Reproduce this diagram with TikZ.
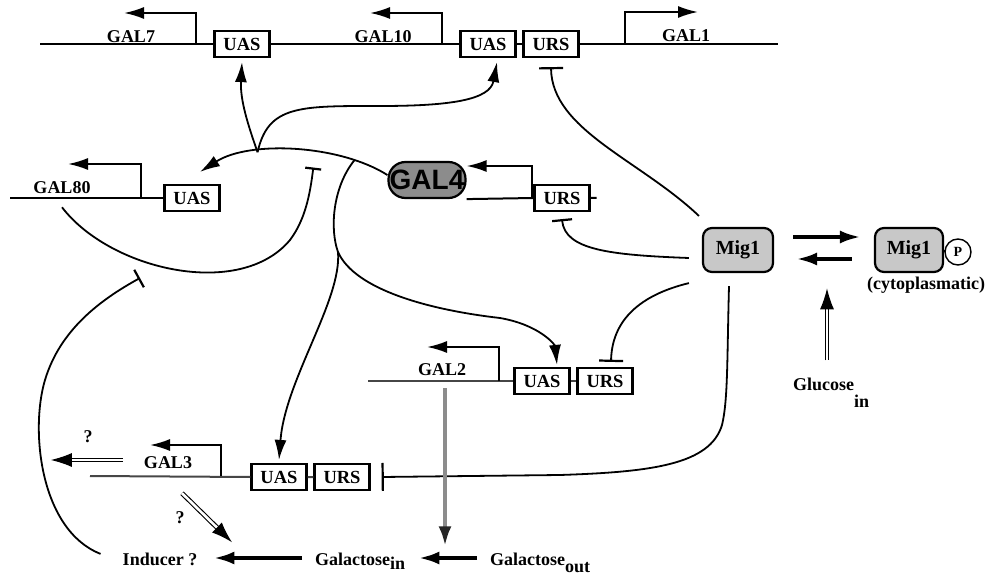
\documentclass[tikz,border=0pt]{standalone}
\usepackage{fontspec}
\setmainfont{Liberation Serif}
\newfontfamily\galsans{Liberation Sans}
\usetikzlibrary{arrows.meta,positioning}
\definecolor{galgray}{RGB}{140,140,140}
\definecolor{miggray}{RGB}{200,200,200}
\definecolor{dnagray}{RGB}{70,70,70}
\tikzset
{
    site/.style = {draw=black, line width=2.2pt, fill=white, minimum width=55pt, minimum height=26pt, inner sep=0pt, font=\fontsize{18.5}{20}\selectfont\bfseries},
    gname/.style = {inner sep=0pt, font=\fontsize{18}{20}\selectfont\bfseries},
    protein/.style = {draw=black, line width=2.2pt, rounded corners=9pt, inner sep=0pt},
    dna/.style = {line width=2pt},
    prom/.style = {line width=2pt, -{Latex[length=20pt,width=12pt]}},
    act/.style = {line width=1.8pt, -{Latex[length=20pt,width=12pt]}},
    inh/.style = {line width=1.8pt, -{Bar[width=24pt,line width=2.2pt]}},
    fat/.style = {line width=4pt, -{Latex[length=21pt,width=13pt]}},
    hollow/.style = {double, double distance=2.6pt, line width=1.1pt, -{Latex[length=21pt,width=14pt]}}
}
\begin{document}
\begin{tikzpicture}[x=1pt, y=-1pt]
\useasboundingbox (0,0) rectangle (990,577);
% GAL7 - GAL10 - GAL1
\node [site] (uas7) at (242,44) {UAS};
\node [site] (uas10) at (488,44) {UAS};
\node [site] (urs1) at (551,44) {URS};
\draw [dna] (40,44) -- (uas7.west) (uas7.east) -- (uas10.west) (uas10.east) -- (urs1.west) (urs1.east) -- (778,44);
\draw [prom] (196,44) -- (196,13) -- (124,13);
\draw [prom] (442,44) -- (442,13) -- (370,13);
\draw [prom] (625,44) -- (625,12) -- (698,12);
\node [gname] (gal7) at (131,37) {GAL7};
\node [gname] (gal10) at (383,37) {GAL10};
\node [gname] (gal1) at (686,36) {GAL1};
% GAL80
\node [site] (uas80) at (192,198) {UAS};
\draw [dna] (10,198) -- (uas80.west);
\draw [prom] (141,198) -- (141,164) -- (68,164);
\node [gname] (gal80) at (62,188) {GAL80};
% GAL4
\node [protein, fill=galgray, rounded corners=17pt, minimum width=77pt, minimum height=36pt, font=\galsans\fontsize{28}{30}\selectfont\bfseries] (gal4) at (427,180) {GAL4};
\node [site] (urs4) at (562,198) {URS};
\draw [dna] (gal4.south east) -- (urs4.west) (urs4.east) -- ++(6,0);
\draw [prom] (532,198) -- (532,166) -- ([yshift=14pt]gal4.east);
% GAL2
\node [site] (uas2) at (542,381) {UAS};
\node [site] (urs2) at (605,381) {URS};
\draw [dna, dnagray] (368,381) -- (uas2.west) (uas2.east) -- (urs2.west);
\draw [prom] (499,381) -- (499,347) -- (427,347);
\node [gname] (gal2) at (442,370) {GAL2};
% GAL3
\node [site] (uas3) at (279,477) {UAS};
\node [site] (urs3) at (342,477) {URS};
\draw [dna, dnagray] (90,476) -- (uas3.west) (uas3.east) -- (urs3.west);
\draw [prom] (221,476) -- (221,445) -- (150,445);
\node [gname] (gal3) at (168,463) {GAL3};
\draw [hollow] ([xshift=-21pt,yshift=3pt]gal3.west) -- ++(-72,0);
\node [gname] (q1) at (88,437) {?};
\draw [hollow] ([xshift=14pt,yshift=-24pt]gal3.south) -- ++(50,49);
\node [gname] (q2) at (180,518) {?};
% Mig1
\node [protein, fill=miggray, minimum width=70pt, minimum height=44pt, font=\fontsize{20}{22}\selectfont\bfseries] (mig) at (738,250) {Mig1};
\node [protein, fill=miggray, minimum width=68pt, minimum height=44pt, font=\fontsize{20}{22}\selectfont\bfseries] (migp) at (909,250) {Mig1};
\node [circle, draw, line width=1.4pt, minimum size=26pt, inner sep=0pt, font=\fontsize{14}{16}\selectfont\bfseries] (phos) at (958,252) {P};
\draw [line width=1.4pt] (migp.east) -- (phos.west);
\node [gname] (cyto) at (926,285) {(cytoplasmatic)};
\draw [fat] ([xshift=19pt,yshift=13pt]mig.east) -- ([xshift=-13pt,yshift=13pt]migp.west);
\draw [fat] ([xshift=-22pt,yshift=-9pt]migp.west) -- ([xshift=22pt,yshift=-9pt]mig.east);
\node [gname, anchor=base west] (gluc) at (793,390) {Glucose\raisebox{-17pt}{in}};
\draw [hollow] ([xshift=34pt,yshift=17pt]gluc.north west) -- ++(0,-72);
% galactose
\node [gname, anchor=base] (ind) at (160,565) {Inducer ?};
\node [gname, anchor=base west] (galin) at (315,565) {Galactose\raisebox{-4pt}{in}};
\node [gname, anchor=base west] (galout) at (490,565) {Galactose\raisebox{-7pt}{out}};
\draw [fat] ([xshift=-13pt,yshift=7pt]galin.base west) -- ([xshift=16pt,yshift=7pt]ind.base east);
\draw [fat] ([xshift=-13pt,yshift=7pt]galout.base west) -- ([xshift=13pt,yshift=7pt]galin.base east);
% GAL4 targets
\draw [act] ([yshift=5pt]gal4.west) .. controls (340,145) and (250,140) .. ([xshift=8pt,yshift=12pt]uas80.north) coordinate[pos=0.2] (fork2) coordinate[pos=0.41] (hit) coordinate[pos=0.68] (fork);
\draw [act] (fork) .. controls (248,125) and (240,100) .. ([yshift=-4pt]uas7.south);
\draw [act] (fork) .. controls (268,105) and (300,106) .. (380,106) .. controls (450,106) and (490,100) .. ([xshift=9pt,yshift=-4pt]uas10.south);
\draw [line width=1.8pt] (fork2) .. controls (332,188) and (330,230) .. (338,252) coordinate (split);
\draw [act] (split) .. controls (342,300) and (285,380) .. ([yshift=3pt]uas3.north);
\draw [act] (split) .. controls (355,290) and (430,310) .. (500,318) .. controls (540,325) and (555,345) .. ([xshift=15pt,yshift=2pt]uas2.north);
% GAL80 and the inducer
\draw [inh, -{Bar[width=16pt,line width=2.2pt]}] ([yshift=-13pt]gal80.south) .. controls (110,270) and (240,300) .. (290,240) .. controls (305,220) and (310,195) .. ([yshift=-16pt]hit);
\coordinate (indhit) at (140,278);
\draw [inh, -{Bar[width=20pt,line width=2.2pt]}] ([xshift=-22pt,yshift=5pt]ind.west) .. controls (40,530) and (30,430) .. (45,380) .. controls (60,330) and (100,300) .. (indhit);
% Mig1 repression
\draw [inh] ([xshift=-3pt,yshift=11pt]mig.north west) .. controls (640,160) and (552,130) .. ([yshift=-9pt]urs1.south);
\draw [inh, -{Bar[width=20pt,line width=2.2pt]}] ([xshift=-13pt,yshift=-8pt]mig.west) .. controls (610,255) and (565,250) .. ([yshift=-7pt]urs4.south);
\draw [inh] ([xshift=-13pt,yshift=-10pt]mig.south west) .. controls (640,295) and (612,320) .. ([xshift=6pt,yshift=5pt]urs2.north);
\draw [inh, -{Bar[width=28pt,line width=2.2pt]}] ([xshift=-9pt,yshift=-13pt]mig.south) .. controls (727,360) and (728,400) .. (722,425) .. controls (710,465) and (650,472) .. (560,475) -- ([xshift=11pt]urs3.east);
% GAL2 transport
\coordinate (g2) at (445,388);
\draw [line width=4.5pt, black!45, -{Latex[length=20pt,width=13pt,black!85]}, shorten >=6pt] (g2) -- (g2 |- galin.north);
\end{tikzpicture}
\end{document}
